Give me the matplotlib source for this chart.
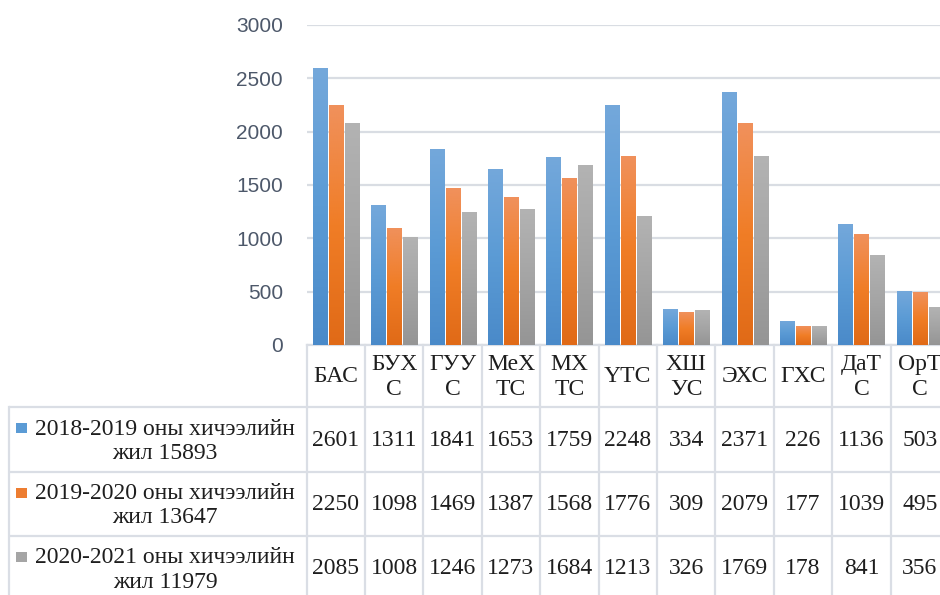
import numpy as np
import matplotlib.pyplot as plt
from matplotlib.colors import LinearSegmentedColormap
from matplotlib.patches import Rectangle
from matplotlib.transforms import blended_transform_factory

# categories (wrapped the same way as in the table header)
categories = ['БАС', 'БУХ\nС', 'ГУУ\nС', 'МеХ\nТС', 'МХ\nТС', 'ҮТС',
              'ХШ\nУС', 'ЭХС', 'ГХС', 'ДаТ\nС', 'ОрТ\nС']
series_names = ['2018-2019 оны хичээлийн\nжил 15893',
                '2019-2020 оны хичээлийн\nжил 13647',
                '2020-2021 оны хичээлийн\nжил 11979']
y2018 = [2601, 1311, 1841, 1653, 1759, 2248, 334, 2371, 226, 1136, 503]
y2019 = [2250, 1098, 1469, 1387, 1568, 1776, 309, 2079, 177, 1039, 495]
y2020 = [2085, 1008, 1246, 1273, 1684, 1213, 326, 1769, 178, 841, 356]
yticks = [0, 500, 1000, 1500, 2000, 2500, 3000]

# excel style gradients: dark bottom, base, light top
grads = [['#4a8ac9', '#5b9bd5', '#74a8db'],
         ['#e06a17', '#f07d26', '#f0915c'],
         ['#959595', '#a5a5a5', '#b3b3b3']]
base_cols = ['#5b9bd5', '#ed7d31', '#a5a5a5']

W, H = 940, 595
fig = plt.figure(figsize=(W / 100, H / 100), dpi=100)

# overlay in pixel coords for the table
ov = fig.add_axes([0, 0, 1, 1])
ov.set_xlim(0, W)
ov.set_ylim(H, 0)
ov.axis('off')

x_left, x_right = 306.5, 949.0
y_top, y_base = 25.0, 345.0
ax = fig.add_axes([x_left / W, 1 - y_base / H, (x_right - x_left) / W, (y_base - y_top) / H])
ax.set_xlim(-0.5, len(categories) - 0.5)
ax.set_ylim(0, 3000)
ax.set_autoscale_on(False)
ax.patch.set_alpha(0)

for s in ax.spines.values():
    s.set_visible(False)
ax.set_yticks(yticks)
ax.yaxis.grid(True, color='#d9dde3', linewidth=1.6)
ax.set_axisbelow(True)
ax.tick_params(axis='y', length=0, pad=17, labelsize=15, labelcolor='#4d586a')
for t in ax.get_yticklabels():
    t.set_fontfamily('Liberation Sans')
ax.set_xticks([])

x = np.arange(len(categories))
step, bw = 0.274, 0.24
grad = np.linspace(0, 1, 256).reshape(-1, 1)
for k, vals in enumerate([y2018, y2019, y2020]):
    cmap = LinearSegmentedColormap.from_list('g%d' % k, grads[k])
    bars = ax.bar(x + (k - 1) * step, vals, width=bw, color=base_cols[k], zorder=2)
    for b in bars:
        x0, w, h = b.get_x(), b.get_width(), b.get_height()
        im = ax.imshow(grad, extent=[x0, x0 + w, 0, h], origin='lower', cmap=cmap,
                       aspect='auto', zorder=3, interpolation='bilinear')
        im.set_clip_path(b)

# data table
line_c = '#dadee5'
lw = 1.6
row_y = [345, 407, 471.5, 536, 600]
hdr_l = 8.5
bt = blended_transform_factory(ax.transData, ov.transData)
ncat = len(categories)

for yy in row_y[1:4]:
    ov.plot([hdr_l, W + 20], [yy, yy], color=line_c, lw=lw, solid_capstyle='butt')
ov.plot([hdr_l, hdr_l], [row_y[1], H + 5], color=line_c, lw=lw)
for i in range(ncat + 1):
    ov.plot([i - 0.5, i - 0.5], [row_y[0], H + 5], color=line_c, lw=lw, transform=bt)
ov.plot([-0.5, ncat - 0.5], [row_y[0], row_y[0]], color=line_c, lw=lw, transform=bt)

tfont = dict(family=['Liberation Serif', 'DejaVu Serif'], size=17, color='#1e1e1e')
for i, c in enumerate(categories):
    ov.text(i, (row_y[0] + row_y[1]) / 2 + 1, c, ha='center', va='center',
            linespacing=1.3, transform=bt, **tfont)

for r, vals in enumerate([y2018, y2019, y2020]):
    yc = (row_y[r + 1] + row_y[r + 2]) / 2
    for i, v in enumerate(vals):
        ov.text(i, yc + 1, str(v), ha='center', va='center', transform=bt, **tfont)
    ov.text(165, yc + 2, series_names[r], ha='center', va='center',
            multialignment='center', linespacing=1.2, **tfont)
    ov.add_patch(Rectangle((16, yc - 16), 11, 10, facecolor=base_cols[r], edgecolor='none'))

fig.savefig('out.png', dpi=100)
